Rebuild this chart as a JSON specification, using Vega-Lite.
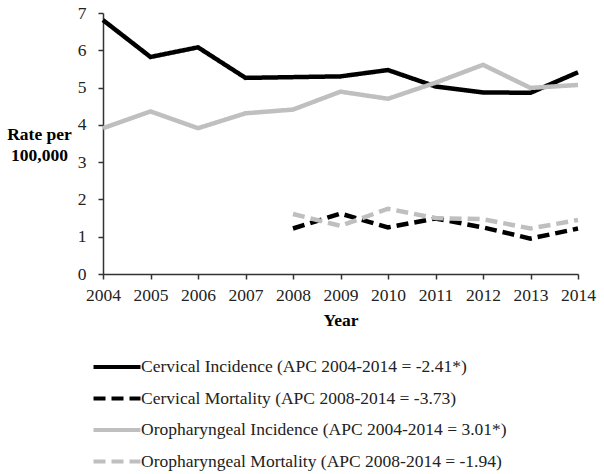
{
  "$schema": "https://vega.github.io/schema/vega-lite/v6.json",
  "autosize": {"type": "none"},
  "padding": {"left": 103, "top": 13, "right": 26, "bottom": 200},
  "width": 475,
  "height": 261,
  "background": "white",
  "config": {
    "font": "Liberation Serif",
    "view": {"stroke": null},
    "axis": {"labelFont": "Liberation Serif", "titleFont": "Liberation Serif", "labelFontSize": 17.5, "titleFontSize": 17.5, "labelColor": "#222", "titleColor": "#000", "domainColor": "#333", "tickColor": "#333", "domainWidth": 1.5, "tickWidth": 1.5, "grid": false}
  },
  "data": {
    "values": [
      {"year": 2004, "series": "Cervical Incidence (APC 2004-2014 = -2.41*)", "rate": 6.81},
      {"year": 2005, "series": "Cervical Incidence (APC 2004-2014 = -2.41*)", "rate": 5.82},
      {"year": 2006, "series": "Cervical Incidence (APC 2004-2014 = -2.41*)", "rate": 6.08},
      {"year": 2007, "series": "Cervical Incidence (APC 2004-2014 = -2.41*)", "rate": 5.26},
      {"year": 2008, "series": "Cervical Incidence (APC 2004-2014 = -2.41*)", "rate": 5.28},
      {"year": 2009, "series": "Cervical Incidence (APC 2004-2014 = -2.41*)", "rate": 5.30},
      {"year": 2010, "series": "Cervical Incidence (APC 2004-2014 = -2.41*)", "rate": 5.47},
      {"year": 2011, "series": "Cervical Incidence (APC 2004-2014 = -2.41*)", "rate": 5.03},
      {"year": 2012, "series": "Cervical Incidence (APC 2004-2014 = -2.41*)", "rate": 4.87},
      {"year": 2013, "series": "Cervical Incidence (APC 2004-2014 = -2.41*)", "rate": 4.86},
      {"year": 2014, "series": "Cervical Incidence (APC 2004-2014 = -2.41*)", "rate": 5.41},
      {"year": 2008, "series": "Cervical Mortality (APC 2008-2014 = -3.73)", "rate": 1.22},
      {"year": 2009, "series": "Cervical Mortality (APC 2008-2014 = -3.73)", "rate": 1.62},
      {"year": 2010, "series": "Cervical Mortality (APC 2008-2014 = -3.73)", "rate": 1.25},
      {"year": 2011, "series": "Cervical Mortality (APC 2008-2014 = -3.73)", "rate": 1.49},
      {"year": 2012, "series": "Cervical Mortality (APC 2008-2014 = -3.73)", "rate": 1.25},
      {"year": 2013, "series": "Cervical Mortality (APC 2008-2014 = -3.73)", "rate": 0.95},
      {"year": 2014, "series": "Cervical Mortality (APC 2008-2014 = -3.73)", "rate": 1.22},
      {"year": 2004, "series": "Oropharyngeal Incidence (APC 2004-2014 = 3.01*)", "rate": 3.91},
      {"year": 2005, "series": "Oropharyngeal Incidence (APC 2004-2014 = 3.01*)", "rate": 4.36},
      {"year": 2006, "series": "Oropharyngeal Incidence (APC 2004-2014 = 3.01*)", "rate": 3.91},
      {"year": 2007, "series": "Oropharyngeal Incidence (APC 2004-2014 = 3.01*)", "rate": 4.31},
      {"year": 2008, "series": "Oropharyngeal Incidence (APC 2004-2014 = 3.01*)", "rate": 4.41},
      {"year": 2009, "series": "Oropharyngeal Incidence (APC 2004-2014 = 3.01*)", "rate": 4.89},
      {"year": 2010, "series": "Oropharyngeal Incidence (APC 2004-2014 = 3.01*)", "rate": 4.70},
      {"year": 2011, "series": "Oropharyngeal Incidence (APC 2004-2014 = 3.01*)", "rate": 5.13},
      {"year": 2012, "series": "Oropharyngeal Incidence (APC 2004-2014 = 3.01*)", "rate": 5.61},
      {"year": 2013, "series": "Oropharyngeal Incidence (APC 2004-2014 = 3.01*)", "rate": 4.99},
      {"year": 2014, "series": "Oropharyngeal Incidence (APC 2004-2014 = 3.01*)", "rate": 5.07},
      {"year": 2008, "series": "Oropharyngeal Mortality (APC 2008-2014 = -1.94)", "rate": 1.61},
      {"year": 2009, "series": "Oropharyngeal Mortality (APC 2008-2014 = -1.94)", "rate": 1.29},
      {"year": 2010, "series": "Oropharyngeal Mortality (APC 2008-2014 = -1.94)", "rate": 1.75},
      {"year": 2011, "series": "Oropharyngeal Mortality (APC 2008-2014 = -1.94)", "rate": 1.50},
      {"year": 2012, "series": "Oropharyngeal Mortality (APC 2008-2014 = -1.94)", "rate": 1.47},
      {"year": 2013, "series": "Oropharyngeal Mortality (APC 2008-2014 = -1.94)", "rate": 1.22},
      {"year": 2014, "series": "Oropharyngeal Mortality (APC 2008-2014 = -1.94)", "rate": 1.45}
    ]
  },
  "mark": {"type": "line", "strokeWidth": 4.5, "strokeCap": "butt", "strokeJoin": "miter"},
  "encoding": {
    "x": {
      "field": "year", "type": "quantitative",
      "scale": {"domain": [2004, 2014], "nice": false, "zero": false},
      "axis": {"values": [2004, 2005, 2006, 2007, 2008, 2009, 2010, 2011, 2012, 2013, 2014], "format": "d", "title": "Year", "titleFontWeight": "bold", "tickSize": 5, "labelPadding": 7, "titlePadding": 8, "labelFlush": false, "labelOverlap": false}
    },
    "y": {
      "field": "rate", "type": "quantitative",
      "scale": {"domain": [0, 7], "nice": false},
      "axis": {"values": [0, 1, 2, 3, 4, 5, 6, 7], "title": ["Rate per", "100,000"], "titleFontWeight": "bold", "titleAngle": 0, "titleAlign": "center", "titleBaseline": "middle", "titleX": -64, "titleY": 121, "titleLineHeight": 21, "tickSize": 5, "labelPadding": 12}
    },
    "color": {
      "field": "series", "type": "nominal",
      "scale": {
        "domain": ["Cervical Incidence (APC 2004-2014 = -2.41*)", "Cervical Mortality (APC 2008-2014 = -3.73)", "Oropharyngeal Incidence (APC 2004-2014 = 3.01*)", "Oropharyngeal Mortality (APC 2008-2014 = -1.94)"],
        "range": ["#000000", "#000000", "#bfbfbf", "#bfbfbf"]
      },
      "legend": {"title": null, "orient": "none", "legendX": 0, "legendY": 340, "symbolType": "M-2,0H2", "symbolSize": 552, "symbolStrokeWidth": 4, "labelFont": "Liberation Serif", "labelFontSize": 17.5, "labelColor": "#222", "labelLimit": 500, "labelOffset": 10, "rowPadding": 8.5}
    },
    "strokeDash": {
      "field": "series", "type": "nominal",
      "scale": {
        "domain": ["Cervical Incidence (APC 2004-2014 = -2.41*)", "Cervical Mortality (APC 2008-2014 = -3.73)", "Oropharyngeal Incidence (APC 2004-2014 = 3.01*)", "Oropharyngeal Mortality (APC 2008-2014 = -1.94)"],
        "range": [[1, 0], [12, 6], [1, 0], [12, 6]]
      },
      "legend": {"title": null, "orient": "none", "legendX": 0, "legendY": 340, "symbolType": "M-2,0H2", "symbolSize": 552, "symbolStrokeWidth": 4, "labelFont": "Liberation Serif", "labelFontSize": 17.5, "labelColor": "#222", "labelLimit": 500, "labelOffset": 10, "rowPadding": 8.5}
    }
  }
}
